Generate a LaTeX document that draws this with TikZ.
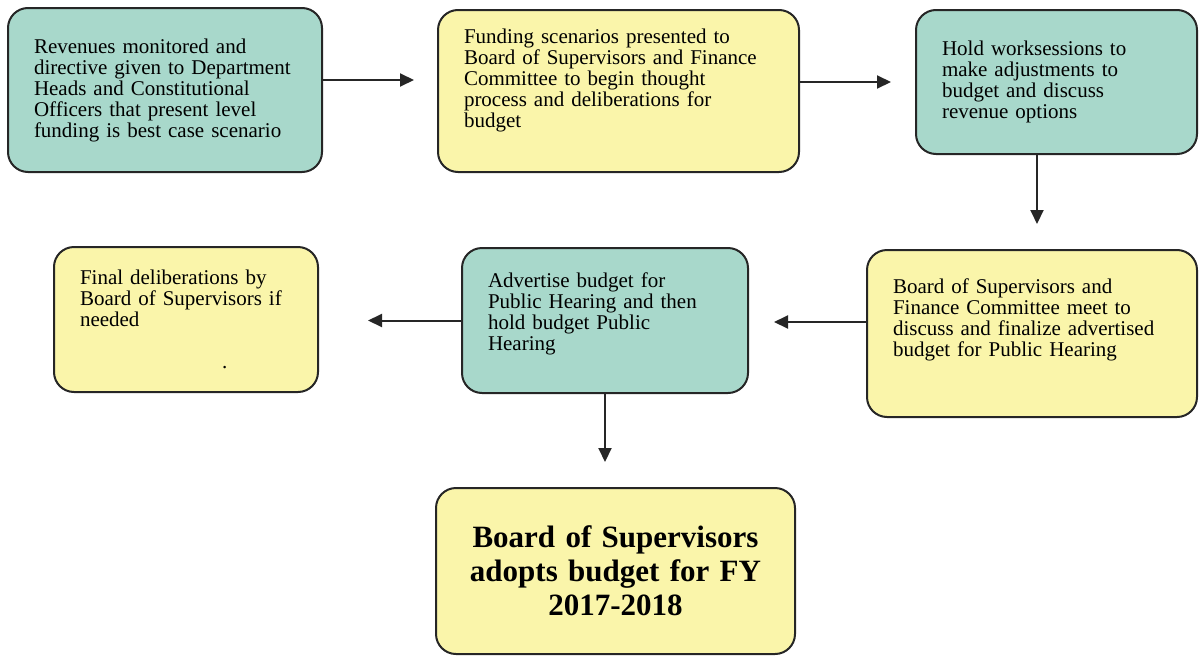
\documentclass[tikz,border=0pt]{standalone}
\usepackage{fontspec}
\setmainfont{Liberation Serif}
\usetikzlibrary{arrows.meta}
\definecolor{paleteal}{RGB}{168,216,203}
\definecolor{paleyellow}{RGB}{250,245,170}

\begin{document}
\begin{tikzpicture}[x=1pt,y=-1pt,
	stagebox/.style={draw=black!85,line width=2pt,rounded corners=20pt,align=left,
		inner xsep=26pt,inner ysep=0pt,font=\fontsize{21}{21}\selectfont},
	tealbox/.style={stagebox,fill=paleteal},
	yellowbox/.style={stagebox,fill=paleyellow},
	flow/.style={draw=black!85,line width=2pt,-{Triangle[length=14pt,width=13pt]}}]
				\useasboundingbox (0,0) rectangle (1199,656);
				\node[tealbox,text width=262pt,minimum height=164pt] (revenues) at (165,90)
					{Revenues monitored and\\directive given to Department\\Heads and Constitutional\\Officers that present level\\funding is best case scenario};
				\node[yellowbox,text width=309pt,minimum height=162pt] (scenarios) at (618.5,91)
					{Funding scenarios presented to\\Board of Supervisors and Finance\\Committee to begin thought\\process and deliberations for\\budget\\[5pt]\mbox{}};
				\node[tealbox,text width=229pt,minimum height=144pt] (worksessions) at (1056.5,82)
					{Hold worksessions to\\make adjustments to\\budget and discuss\\revenue options};
				\node[yellowbox,text width=278pt,minimum height=167pt] (committee) at (1032,333.5)
					{Board of Supervisors and\\Finance Committee meet to\\discuss and finalize advertised\\budget for Public Hearing\\[11pt]\mbox{}};
				\node[tealbox,text width=234pt,minimum height=145pt] (advertise) at (605,320.5)
					{Advertise budget for\\Public Hearing and then\\hold budget Public\\Hearing\\[-3pt]\mbox{}};
				\node[yellowbox,text width=212pt,minimum height=145pt] (final) at (186,319.5)
					{Final deliberations by\\Board of Supervisors if\\needed\\[21pt]\hspace*{142pt}.};
				\node[yellowbox,align=center,text width=307pt,minimum height=166pt,
					font=\fontsize{31}{34}\selectfont\bfseries] (adopt) at (615.5,571)
					{Board of Supervisors\\adopts budget for FY\\2017-2018};
				\draw[flow,shorten >=23pt] ([yshift=10pt]revenues.east) -- ([yshift=10pt]revenues.east -| scenarios.west);
				\draw[flow,shorten >=24pt] ([yshift=9pt]scenarios.east) -- ([yshift=9pt]scenarios.east -| worksessions.west);
				\draw[flow,shorten >=25pt] ([xshift=-19.5pt]worksessions.south) -- ([xshift=-19.5pt]worksessions.south |- committee.north);
				\draw[flow,shorten >=25pt] ([yshift=11.5pt]committee.west) -- ([yshift=11.5pt]committee.west -| advertise.east);
				\draw[flow,shorten >=49pt] (advertise.west) -- (advertise.west -| final.east);
				\draw[flow,shorten >=25pt] (advertise.south) -- (advertise.south |- adopt.north);
			\end{tikzpicture}
\end{document}
